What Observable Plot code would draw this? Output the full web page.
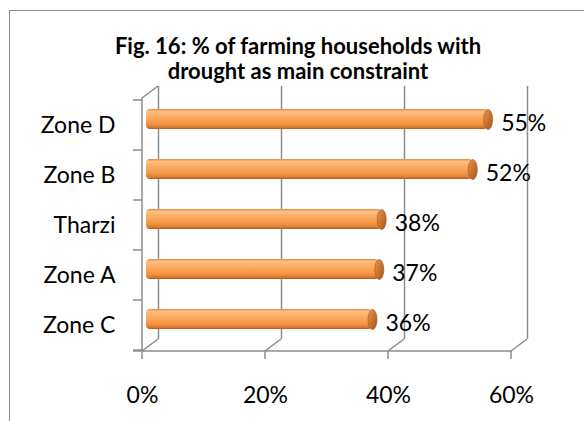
<!DOCTYPE html>
<html>
<head>
<meta charset="utf-8">
<script src="https://cdn.jsdelivr.net/npm/d3@7"></script>
<script src="https://cdn.jsdelivr.net/npm/@observablehq/plot@0.6"></script>
<style>
  html, body { margin: 0; padding: 0; background: #ffffff; overflow: hidden; }
  #wrap { position: relative; width: 584px; height: 421px; overflow: hidden; font-family: Lato, "Noto Sans", sans-serif; }
  #border { position: absolute; left: 9px; top: 10px; width: 700px; height: 600px; border: 1.5px solid #8a8a8a; }
  #title { position: relative; box-sizing: border-box; height: 86px; padding-top: 33px; padding-left: 12px;
           text-align: center; font-weight: 700; font-size: 22px; line-height: 25px; color: #000; }
  #chart { position: relative; }
</style>
</head>
<body>
<div id="wrap">
  <div id="border"></div>
  <div id="title"></div>
  <div id="chart"></div>
</div>
<script>
// ---- data ----
const zones = ["Zone D", "Zone B", "Tharzi", "Zone A", "Zone C"];
const shares = [54.9, 52.4, 37.6, 37.2, 36.1];
const shareLabels = ["55%", "52%", "38%", "37%", "36%"];
const xTicks = [0, 20, 40, 60];
const xTickLabels = ["0%", "20%", "40%", "60%"];
const titleLines = ["Fig. 16: % of farming households with", "drought as main constraint"];

const rows = zones.map((z, i) => ({zone: z, value: shares[i], label: shareLabels[i]}));

document.getElementById("title").innerHTML = titleLines.map(t => `<div>${t}</div>`).join("");

const GRID = "#8c8c8c";
const DX = 16, DY = -12;   // 3-D depth offset
const TICK = 9;

// elliptical end cap symbol
const capSymbol = {
  draw(context, size) {
    const rx = 4.5, ry = 10, k = 0.5523;
    context.moveTo(rx, 0);
    context.bezierCurveTo(rx, k * ry, k * rx, ry, 0, ry);
    context.bezierCurveTo(-k * rx, ry, -rx, k * ry, -rx, 0);
    context.bezierCurveTo(-rx, -k * ry, -k * rx, -ry, 0, -ry);
    context.bezierCurveTo(k * rx, -ry, rx, -k * ry, rx, 0);
    context.closePath();
  }
};

// 3-D frame: defs, left wall, floor diagonals, front axis lines and ticks
function frame3d(index, scales, values, dims) {
  const x = scales.x, y = scales.y;
  const g = d3.create("svg:g");
  const defs = g.append("defs");
  const lg = defs.append("linearGradient").attr("id", "cyl").attr("x1", 0).attr("y1", 0).attr("x2", 0).attr("y2", 1);
  [[0, "#dc8a44"], [0.12, "#fdbf82"], [0.35, "#fcae68"], [0.7, "#f69844"], [0.9, "#dd7e33"], [1, "#ac5b20"]]
    .forEach(([o, c]) => lg.append("stop").attr("offset", o).attr("stop-color", c));
  const cg = defs.append("linearGradient").attr("id", "capg").attr("x1", 0).attr("y1", 0).attr("x2", 1).attr("y2", 1);
  [[0, "#e39652"], [0.5, "#ca742e"], [1, "#a2541d"]]
    .forEach(([o, c]) => cg.append("stop").attr("offset", o).attr("stop-color", c));

  const top = dims.marginTop, bottom = dims.height - dims.marginBottom;
  const x0 = x(xTicks[0]), xEnd = x(xTicks[xTicks.length - 1]);
  const segs = [];
  segs.push([x0 - TICK, bottom, xEnd, bottom]);          // front floor edge
  segs.push([x0, top, x0, bottom]);                       // front-left vertical
  segs.push([x0, top, x0 + DX, top + DY]);                // top-left diagonal
  xTicks.forEach(t => {
    segs.push([x(t), bottom, x(t) + DX, bottom + DY]);    // floor diagonals
    segs.push([x(t), bottom, x(t), bottom + 8]);          // tick marks
  });
  const bw = y.bandwidth ? y.bandwidth() : 0;
  zones.forEach(z => segs.push([x0 - TICK, y(z), x0, y(z)]));
  segs.push([x0 - TICK, y(zones[zones.length - 1]) + bw, x0, y(zones[zones.length - 1]) + bw]);
  g.append("g").attr("stroke", GRID).attr("stroke-width", 1.5).attr("fill", "none")
    .selectAll("line").data(segs).join("line")
    .attr("x1", d => d[0]).attr("y1", d => d[1]).attr("x2", d => d[2]).attr("y2", d => d[3]);
  return g.node();
}

const plot = Plot.plot({
  width: 584,
  height: 335,
  marginLeft: 142,
  marginRight: 73,
  marginTop: 12,
  marginBottom: 70,
  style: {fontFamily: "Lato, 'Noto Sans', sans-serif", fontSize: "23px", color: "#000", background: "transparent", overflow: "visible"},
  x: {domain: [0, 60], ticks: xTicks, tickFormat: d => xTickLabels[xTicks.indexOf(d)], tickSize: 0, tickPadding: 35, label: null, fontSize: 22},
  y: {domain: zones, padding: 0, tickSize: 0, tickPadding: 27, label: null},
  marks: [
    Plot.ruleX(xTicks, {x: d => d, stroke: GRID, strokeWidth: 1.5, dx: DX, dy: DY}),
    frame3d,
    Plot.barX(rows, {x: "value", y: "zone", dx: 8, dy: -6, insetTop: 15, insetBottom: 15, insetLeft: -4, rx: 4, fill: "url(#cyl)"}),
    Plot.dot(rows, {x: "value", y: "zone", dx: 8, dy: -6, symbol: capSymbol, fill: "url(#capg)", stroke: "#a4561e", strokeWidth: 0.6}),
    Plot.text(rows, {x: "value", y: "zone", text: "label", textAnchor: "start", dx: 21, dy: -2, fontSize: 23, fill: "#000"})
  ]
});
document.getElementById("chart").appendChild(plot);
</script>
</body>
</html>
